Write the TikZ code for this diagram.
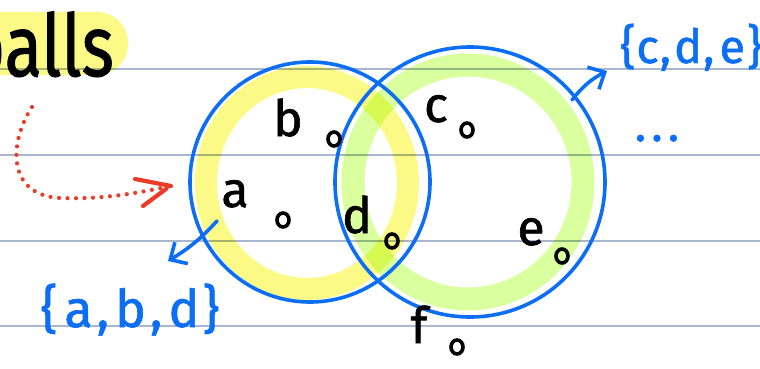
\documentclass[tikz,border=0pt]{standalone}
\usepackage{fontspec}
\setmainfont{Fira Sans}
\newfontfamily\hand{Fira Sans}[FakeBold=1.2]
\usetikzlibrary{arrows.meta,shapes.geometric,calc}
\definecolor{ruleclr}{RGB}{168,182,206}
\definecolor{hlyellow}{RGB}{252,250,135}
\definecolor{hlgreen}{RGB}{218,255,158}
\definecolor{inkblue}{RGB}{12,110,245}
\definecolor{inkred}{RGB}{235,60,40}
\begin{document}
\begin{tikzpicture}[x=1pt,y=-1pt,
  ruleline/.style={draw=ruleclr,line width=1.4pt},
  setcirc/.style={circle,draw=inkblue,line width=3.6pt,inner sep=0pt},
  elem/.style={text=black,font=\hand\fontsize{50}{50}\selectfont,inner sep=0pt},
  pt/.style={ellipse,draw=black,line width=3.6pt,minimum width=12pt,minimum height=14pt,inner sep=0pt},
  bluetxt/.style={text=inkblue,font=\hand\fontsize{52}{52}\selectfont,inner sep=0pt},
  bluearrow/.style={draw=inkblue,line width=3.6pt,line cap=round,-{Straight Barb[length=13pt,width=25pt,line width=3.6pt]}},
  reddots/.style={draw=inkred,line width=4.2pt,line cap=round,dash pattern=on 0pt off 8.5pt},
  redstroke/.style={draw=inkred,line width=4.2pt,line cap=round}
]
\useasboundingbox (0,0) rectangle (760,369);
% ruled lines
\foreach \yy in {69,155,241,326} {\draw[ruleline] (0,\yy) -- (760,\yy);}
% highlights
\fill[hlyellow,blend mode=multiply,rounded corners=31pt] (-60,12) rectangle (128,75);
\draw[hlyellow,line width=22pt,blend mode=multiply] (307,183) ellipse [x radius=101, y radius=106];
\draw[hlgreen,line width=23pt,blend mode=multiply] (468,182) ellipse [x radius=115, y radius=117];
% title
\node[text=black,font=\hand\fontsize{86}{86}\selectfont,xscale=0.8,anchor=base east,inner sep=0pt] (title) at (114,76) {balls};
% sets
\node[setcirc,minimum size=240pt] (setA) at (310,182) {};
\node[setcirc,minimum size=270pt] (setB) at (470,182) {};
% elements
\node[elem,anchor=base] (la) at (235,207) {a};
\node[elem,anchor=base] (lb) at (288,136) {b};
\node[elem,anchor=base] (lc) at (436,122) {c};
\node[elem,anchor=base] (ld) at (357,233) {d};
\node[elem,anchor=base] (le) at (531,245) {e};
\node[elem,anchor=base] (lf) at (419,343) {f};
\node[pt] (pa) at (283,220) {};
\node[pt] (pb) at (334,139) {};
\node[pt] (pc) at (467,130) {};
\node[pt] (pd) at (392,241) {};
\node[pt] (pe) at (562,256) {};
\node[pt] (pf) at (457,347) {};
% set labels
\node[bluetxt,anchor=base] (subA) at (130,327) {\{\kern7pt a\kern4pt,\kern6pt b\kern4pt,\kern6pt d\kern3pt\}};
\node[bluetxt,font=\hand\fontsize{47}{47}\selectfont,anchor=base west] (subB) at (620,63) {\{\kern1pt c\kern1pt,\kern3pt d\kern1pt,\kern5pt e\kern2pt\}};
\node[text=inkblue,font=\hand\fontsize{48}{48}\selectfont,inner sep=0pt,anchor=base] (more) at (657,141) {.\kern5pt.\kern5pt.};
% blue arrows
\coordinate (a1) at (217,221);
\coordinate (a2) at (168,261);
\draw[bluearrow] (a1) to[bend left=8] (a2);
\coordinate (b1) at (572,100);
\coordinate (b2) at (607,71);
\draw[bluearrow] (b1) to[bend left=12] (b2);
% red dotted arrow
\coordinate (r1) at (32,107);
\coordinate (rm) at (60,198);
\coordinate (r2) at (171,186);
\draw[reddots] (r1) .. controls (10,140) and (5,195) .. (rm) .. controls (110,200) and (150,190) .. (r2);
\draw[redstroke] (r2) -- ($(r2)+(-36,-7)$);
\draw[redstroke] ($(r2)+(-5,3)$) -- ($(r2)+(-28,20)$);
\end{tikzpicture}
\end{document}
